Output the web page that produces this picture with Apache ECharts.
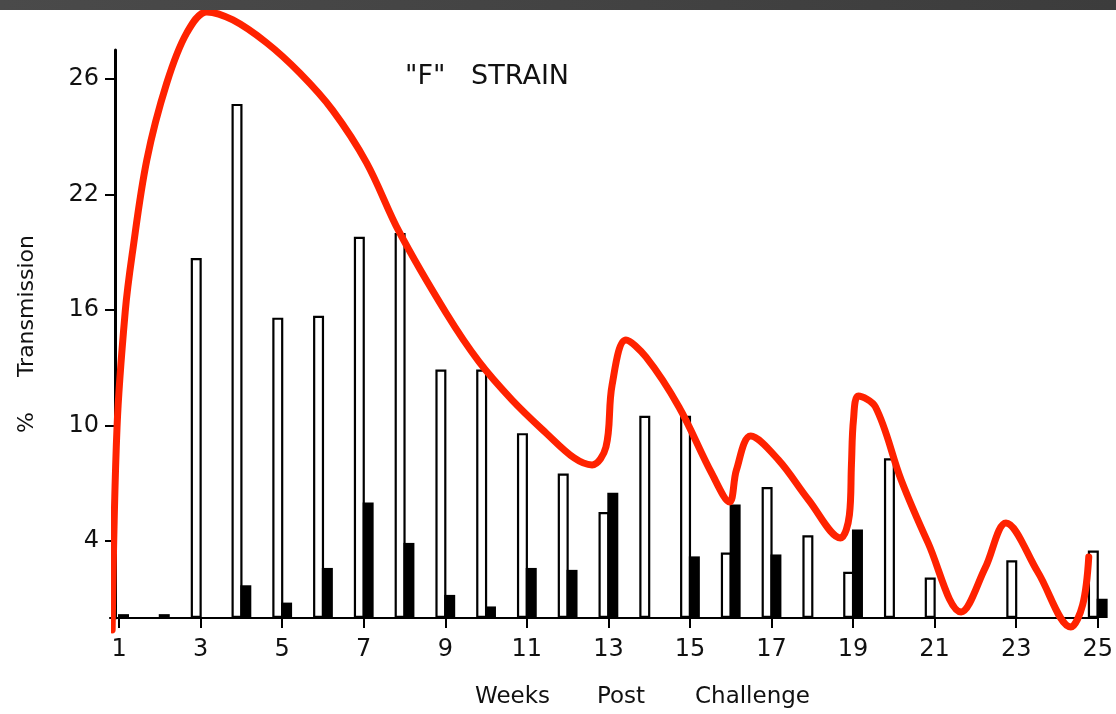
<!DOCTYPE html>
<html>
<head>
<meta charset="utf-8">
<script src="https://cdn.jsdelivr.net/npm/echarts@6/dist/echarts.min.js"></script>
<style>html,body{margin:0;padding:0;background:#fff;}#c{width:1116px;height:714px;}</style>
</head>
<body>
<div id="c"></div>
<script>
// ---- data ----
const weeks = [1,2,3,4,5,6,7,8,9,10,11,12,13,14,15,16,17,18,19,20,21,22,23,24,25];
const whiteBars = [0,0,18.7,26.7,15.6,15.7,19.8,20.0,12.9,12.9,9.6,7.5,5.5,10.5,10.5,3.4,6.8,4.3,2.4,8.3,2.1,0,3.0,0,3.5];
const blackBars = [0.2,0.2,0,1.7,0.8,2.6,6.0,3.9,1.2,0.6,2.6,2.5,6.5,0,3.2,5.9,3.3,0,4.6,0,0,0,0,0,1.0];
const xTicks = [1,3,5,7,9,11,13,15,17,19,21,23,25];
const xTickLabels = ['1','3','5','7','9','11','13','15','17','19','21','23','25'];
const yTicks = [4,10,16,22,28];
const yTickLabels = ['4','10','16','22','26'];
// hand-drawn red trend curve: [week, % transmission]
const curveWeeks = [0.83,0.95,1.15,1.32,1.68,2.17,2.66,3.15,3.79,4.62,5.43,6.23,7.07,7.87,9.02,9.83,10.64,11.47,12.16,12.60,12.94,13.09,13.43,13.92,14.73,15.53,15.97,16.14,16.49,17.17,17.91,18.69,18.91,18.96,19.01,19.13,19.55,20.18,20.84,21.65,22.24,22.75,23.53,24.34,24.63,24.78];
const curveValues = [-0.62,9.92,15.90,18.86,23.79,27.79,30.39,31.48,31.06,29.87,28.31,26.39,23.64,20.05,15.84,13.30,11.32,9.61,8.31,7.95,8.88,12.10,14.44,13.56,10.96,7.53,6.03,7.69,9.45,8.21,6.13,4.16,5.35,7.95,10.29,11.53,10.96,7.17,3.90,0.31,2.60,4.94,2.39,-0.47,0.68,3.17];
const titleText = '"F"   STRAIN';
const yName = '%     Transmission';
const xNameWords = ['Weeks', 'Post', 'Challenge'];

// ---- chart ----
const FONT = 'DejaVu Sans';
const INK = '#111';
const chart = echarts.init(document.getElementById('c'), null, {renderer:'canvas'});
const option = {
  animation: false,
  backgroundColor: '#ffffff',
  textStyle: {fontFamily: FONT, color: INK},
  grid: {left: 115, right: 16, top: 50, bottom: 96},
  graphic: [
    {type:'rect', left:0, top:0, shape:{width:1116, height:10},
     style:{fill:new echarts.graphic.LinearGradient(0,0,1,0,[{offset:0,color:'#4a4a4a'},{offset:1,color:'#3c3c3c'}])}, z:100},
    {type:'text', x:405, y:77, style:{text:titleText, fontSize:27, fontFamily:FONT, fill:INK, verticalAlign:'middle'}},
    {type:'text', x:475, y:697, style:{text:xNameWords[0], fontSize:23, fontFamily:FONT, fill:INK, verticalAlign:'middle'}},
    {type:'text', x:597, y:697, style:{text:xNameWords[1], fontSize:23, fontFamily:FONT, fill:INK, verticalAlign:'middle'}},
    {type:'text', x:695, y:697, style:{text:xNameWords[2], fontSize:23, fontFamily:FONT, fill:INK, verticalAlign:'middle'}}
  ],
  xAxis: {
    type: 'value', min: 0.9, max: 25,
    axisLine: {show: true, onZero: false, lineStyle: {color: '#000', width: 2}},
    axisTick: {show: true, customValues: xTicks, length: 10, lineStyle: {color: '#000', width: 2}},
    axisLabel: {customValues: xTicks, formatter: v => xTickLabels[xTicks.indexOf(v)], margin: 20, fontSize: 24, color: INK, fontFamily: FONT},
    splitLine: {show: false}
  },
  yAxis: {
    type: 'value', min: 0, max: 29.5,
    name: yName, nameLocation: 'middle', nameGap: 77, nameRotate: 90,
    nameTextStyle: {fontSize: 22, color: INK, fontFamily: FONT},
    axisLine: {show: true, onZero: false, lineStyle: {color: '#000', width: 3}},
    axisTick: {show: true, customValues: yTicks, length: 10, lineStyle: {color: '#000', width: 2}},
    axisLabel: {customValues: yTicks, formatter: v => yTickLabels[yTicks.indexOf(v)], margin: 16, fontSize: 24, color: INK, fontFamily: FONT},
    splitLine: {show: false}
  },
  series: [
    {
      type: 'bar', name: 'white',
      data: weeks.map((w, i) => [w, whiteBars[i]]),
      barWidth: 11, barGap: '-20%',
      itemStyle: {color: '#ffffff', borderColor: '#000', borderWidth: 2.2}
    },
    {
      type: 'bar', name: 'black',
      data: weeks.map((w, i) => [w, blackBars[i]]),
      barWidth: 11,
      itemStyle: {color: '#000000'}
    },
    {
      type: 'line', name: 'trend',
      data: curveWeeks.map((w, i) => [w, curveValues[i]]),
      smooth: 0.35, symbol: 'none', clip: false, z: 10,
      lineStyle: {color: '#ff2200', width: 7, cap: 'round', join: 'round'}
    }
  ]
};
chart.setOption(option);
</script>
</body>
</html>
